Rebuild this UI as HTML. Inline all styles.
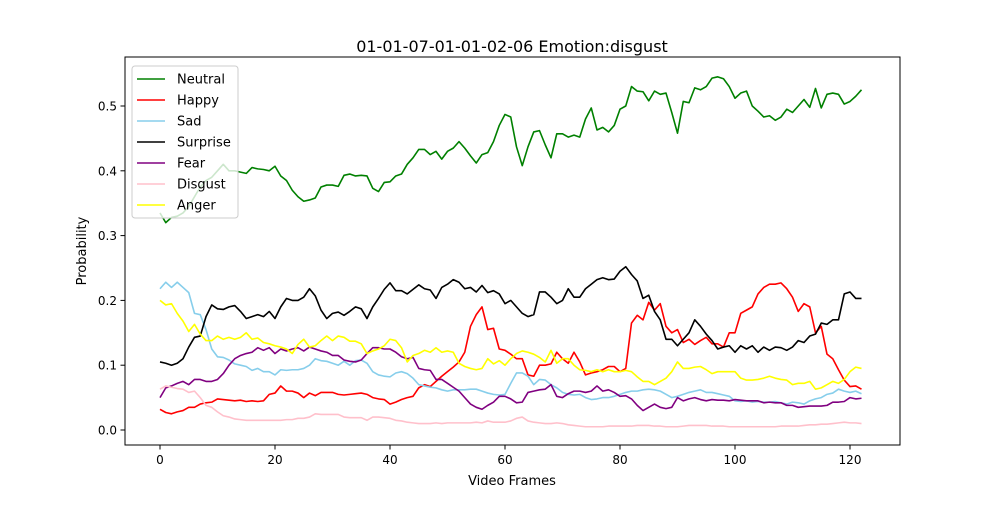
<!DOCTYPE html>
<html><head><meta charset="utf-8"><style>
body{margin:0;background:#fff;font-family:"Liberation Sans","DejaVu Sans",sans-serif;}
svg text{font-family:"DejaVu Sans","Liberation Sans",sans-serif;}
</style></head><body>
<svg id="chart" width="1000" height="500" xmlns="http://www.w3.org/2000/svg">
<rect x="0" y="0" width="1000" height="500" fill="#fff"/>
<text x="512" y="52" text-anchor="middle" font-size="16">01-01-07-01-01-02-06 Emotion:disgust</text>
<g id="plot"></g>
<rect x="125" y="57" width="775" height="388" fill="none" stroke="#000" stroke-width="1"/>
<text x="512" y="485" text-anchor="middle" font-size="13">Video Frames</text>
<text x="86" y="251" text-anchor="middle" font-size="13" transform="rotate(-90 86 251)">Probability</text>
<g id="legend"></g>
</svg>
<script>
const categories = [...Array(123).keys()];
const neutral=[0.335,0.32,0.328,0.33,0.335,0.345,0.36,0.375,0.385,0.39,0.40,0.41,0.40,0.40,0.398,0.396,0.405,0.403,0.402,0.40,0.407,0.392,0.385,0.37,0.36,0.353,0.355,0.358,0.375,0.378,0.378,0.376,0.393,0.395,0.392,0.393,0.392,0.373,0.368,0.382,0.383,0.392,0.395,0.41,0.42,0.433,0.433,0.425,0.43,0.418,0.43,0.435,0.445,0.435,0.423,0.412,0.425,0.428,0.445,0.47,0.487,0.483,0.437,0.408,0.437,0.46,0.462,0.44,0.42,0.457,0.457,0.452,0.455,0.452,0.48,0.497,0.463,0.467,0.46,0.47,0.495,0.5,0.53,0.523,0.522,0.508,0.523,0.518,0.52,0.49,0.458,0.507,0.505,0.528,0.525,0.53,0.543,0.545,0.542,0.53,0.512,0.52,0.523,0.5,0.492,0.483,0.485,0.478,0.483,0.495,0.49,0.5,0.51,0.498,0.527,0.497,0.518,0.52,0.518,0.503,0.507,0.515,0.525];
const happy=[0.032,0.027,0.025,0.028,0.03,0.035,0.035,0.04,0.042,0.043,0.048,0.047,0.046,0.045,0.046,0.044,0.045,0.044,0.045,0.055,0.057,0.068,0.06,0.06,0.057,0.05,0.057,0.053,0.058,0.058,0.058,0.055,0.054,0.055,0.056,0.057,0.055,0.05,0.048,0.047,0.04,0.043,0.047,0.05,0.052,0.065,0.07,0.067,0.075,0.083,0.09,0.097,0.105,0.12,0.16,0.178,0.19,0.155,0.157,0.125,0.123,0.117,0.11,0.11,0.085,0.083,0.1,0.1,0.102,0.12,0.11,0.103,0.12,0.105,0.085,0.088,0.09,0.093,0.098,0.098,0.09,0.095,0.165,0.177,0.17,0.197,0.185,0.195,0.16,0.15,0.155,0.135,0.14,0.132,0.138,0.143,0.133,0.133,0.128,0.15,0.15,0.18,0.185,0.19,0.21,0.22,0.225,0.225,0.227,0.218,0.205,0.183,0.195,0.19,0.15,0.16,0.117,0.11,0.093,0.077,0.067,0.068,0.063];
const sad=[0.218,0.228,0.22,0.228,0.22,0.212,0.18,0.178,0.155,0.125,0.113,0.112,0.108,0.102,0.1,0.098,0.092,0.095,0.09,0.09,0.085,0.093,0.092,0.093,0.093,0.095,0.1,0.11,0.107,0.106,0.103,0.1,0.106,0.1,0.107,0.108,0.103,0.09,0.085,0.083,0.082,0.088,0.09,0.087,0.08,0.07,0.068,0.066,0.065,0.062,0.06,0.062,0.062,0.062,0.063,0.063,0.06,0.057,0.055,0.054,0.055,0.072,0.088,0.088,0.083,0.07,0.078,0.077,0.07,0.065,0.058,0.055,0.054,0.055,0.05,0.047,0.048,0.05,0.05,0.052,0.055,0.058,0.06,0.06,0.062,0.063,0.062,0.06,0.055,0.05,0.052,0.055,0.058,0.06,0.062,0.058,0.058,0.056,0.054,0.052,0.045,0.044,0.045,0.043,0.044,0.043,0.043,0.044,0.042,0.04,0.043,0.042,0.04,0.045,0.048,0.05,0.055,0.057,0.063,0.06,0.058,0.06,0.056];
const surprise=[0.105,0.103,0.1,0.103,0.11,0.128,0.143,0.145,0.175,0.193,0.187,0.186,0.19,0.192,0.183,0.172,0.175,0.178,0.175,0.183,0.172,0.19,0.203,0.2,0.2,0.205,0.218,0.207,0.185,0.172,0.18,0.182,0.177,0.183,0.19,0.187,0.172,0.19,0.203,0.217,0.227,0.215,0.215,0.21,0.217,0.224,0.218,0.216,0.203,0.22,0.225,0.232,0.228,0.218,0.22,0.213,0.223,0.212,0.215,0.21,0.195,0.2,0.19,0.18,0.175,0.178,0.213,0.213,0.205,0.195,0.2,0.218,0.205,0.205,0.218,0.225,0.232,0.235,0.232,0.233,0.245,0.252,0.24,0.23,0.203,0.208,0.183,0.17,0.14,0.14,0.13,0.14,0.15,0.17,0.16,0.148,0.138,0.125,0.128,0.13,0.12,0.13,0.125,0.13,0.12,0.128,0.123,0.128,0.127,0.123,0.128,0.138,0.135,0.145,0.148,0.165,0.163,0.17,0.17,0.21,0.213,0.203,0.203];
const fear=[0.05,0.065,0.068,0.072,0.075,0.07,0.078,0.078,0.075,0.075,0.078,0.087,0.1,0.11,0.115,0.118,0.12,0.127,0.123,0.127,0.118,0.125,0.122,0.125,0.127,0.122,0.128,0.125,0.122,0.12,0.115,0.115,0.108,0.106,0.105,0.108,0.118,0.127,0.127,0.125,0.125,0.12,0.113,0.11,0.112,0.095,0.093,0.092,0.078,0.078,0.072,0.066,0.06,0.05,0.04,0.035,0.032,0.038,0.043,0.052,0.052,0.048,0.042,0.043,0.058,0.06,0.062,0.063,0.07,0.052,0.05,0.056,0.06,0.06,0.058,0.06,0.068,0.06,0.062,0.058,0.052,0.053,0.048,0.038,0.03,0.035,0.04,0.035,0.033,0.035,0.05,0.045,0.048,0.05,0.047,0.045,0.047,0.046,0.046,0.045,0.047,0.046,0.045,0.045,0.045,0.042,0.043,0.042,0.042,0.038,0.038,0.035,0.036,0.037,0.037,0.037,0.038,0.043,0.043,0.044,0.05,0.048,0.049];
const disgust=[0.063,0.068,0.066,0.064,0.063,0.058,0.06,0.05,0.038,0.035,0.028,0.022,0.02,0.017,0.016,0.015,0.015,0.015,0.015,0.015,0.015,0.015,0.016,0.016,0.018,0.018,0.02,0.025,0.024,0.024,0.024,0.024,0.02,0.019,0.019,0.019,0.015,0.02,0.02,0.019,0.018,0.015,0.014,0.012,0.011,0.01,0.01,0.01,0.011,0.01,0.011,0.011,0.011,0.011,0.011,0.012,0.011,0.014,0.012,0.012,0.012,0.014,0.018,0.02,0.014,0.012,0.011,0.01,0.01,0.011,0.01,0.008,0.007,0.006,0.005,0.005,0.005,0.005,0.006,0.006,0.006,0.006,0.006,0.007,0.007,0.007,0.006,0.006,0.005,0.005,0.005,0.006,0.007,0.007,0.007,0.007,0.006,0.006,0.006,0.005,0.005,0.005,0.005,0.005,0.005,0.005,0.005,0.005,0.006,0.006,0.006,0.006,0.007,0.008,0.008,0.009,0.009,0.01,0.011,0.012,0.011,0.011,0.01];
const anger=[0.2,0.193,0.195,0.18,0.168,0.152,0.163,0.148,0.138,0.138,0.145,0.14,0.143,0.14,0.143,0.15,0.14,0.142,0.135,0.133,0.13,0.128,0.125,0.118,0.132,0.14,0.128,0.13,0.138,0.145,0.138,0.145,0.143,0.137,0.137,0.133,0.118,0.122,0.125,0.13,0.14,0.138,0.127,0.105,0.115,0.118,0.123,0.12,0.127,0.12,0.122,0.12,0.103,0.098,0.095,0.093,0.095,0.11,0.102,0.107,0.1,0.11,0.118,0.122,0.12,0.117,0.112,0.105,0.123,0.103,0.11,0.11,0.1,0.093,0.092,0.09,0.093,0.09,0.093,0.09,0.09,0.092,0.09,0.082,0.075,0.075,0.07,0.075,0.08,0.09,0.105,0.095,0.095,0.097,0.098,0.093,0.087,0.09,0.09,0.09,0.09,0.08,0.077,0.077,0.078,0.08,0.083,0.08,0.078,0.077,0.07,0.072,0.072,0.075,0.063,0.065,0.07,0.075,0.072,0.078,0.09,0.097,0.095];
const seriesNames=["Neutral","Happy","Sad","Surprise","Fear","Disgust","Anger"];
const seriesData=[neutral,happy,sad,surprise,fear,disgust,anger];
const seriesColors=["green","red","skyblue","black","purple","pink","yellow"];
const xTicks=[0,20,40,60,80,100,120];
const yTicks=[0.0,0.1,0.2,0.3,0.4,0.5];

const NS="http://www.w3.org/2000/svg";
const xs=v=>160+v*5.75;
const ys=v=>430-v*648;
const plot=document.getElementById('plot');
const svg=document.getElementById('chart');
function mk(t,a,p){const e=document.createElementNS(NS,t);for(const k in a)e.setAttribute(k,a[k]);(p||svg).appendChild(e);return e;}
xTicks.forEach(t=>{
  const l=mk('line',{x1:xs(t),x2:xs(t),y1:445,y2:449.5,stroke:'#000'});
  
  
  const tx=mk('text',{x:xs(t),y:464,'text-anchor':'middle','font-size':'12'});
  tx.textContent=t;
  
  
});
yTicks.forEach(t=>{
  const l=mk('line',{x1:120.5,x2:125,y1:ys(t),y2:ys(t),stroke:'#000'});
  
  
  const tx=mk('text',{x:117,y:ys(t)+4.5,'text-anchor':'end','font-size':'12'});
  tx.textContent=t.toFixed(1);
  
  
});
seriesData.forEach((d,i)=>{
  const pts=d.map((v,j)=>xs(categories[j]).toFixed(2)+','+ys(v).toFixed(2)).join(' ');
  const pl=mk('polyline',{points:pts,fill:'none',stroke:seriesColors[i],'stroke-width':'1.6','stroke-linejoin':'round'},plot);
  
  
});
const lg=document.getElementById('legend');
const box=mk('rect',{x:132,y:66,width:106,height:152,rx:3,fill:'#fff','fill-opacity':'0.8',stroke:'#ccc'},lg);


seriesNames.forEach((n,i)=>{
  const y=79+i*21;
  const ln=mk('line',{x1:137,x2:165,y1:y,y2:y,stroke:seriesColors[i],'stroke-width':'1.6'},lg);
  
  
  const tx=mk('text',{x:177,y:y+4.5,'font-size':'13'},lg);
  tx.textContent=n;
  
  
});
</script>
</body></html>
